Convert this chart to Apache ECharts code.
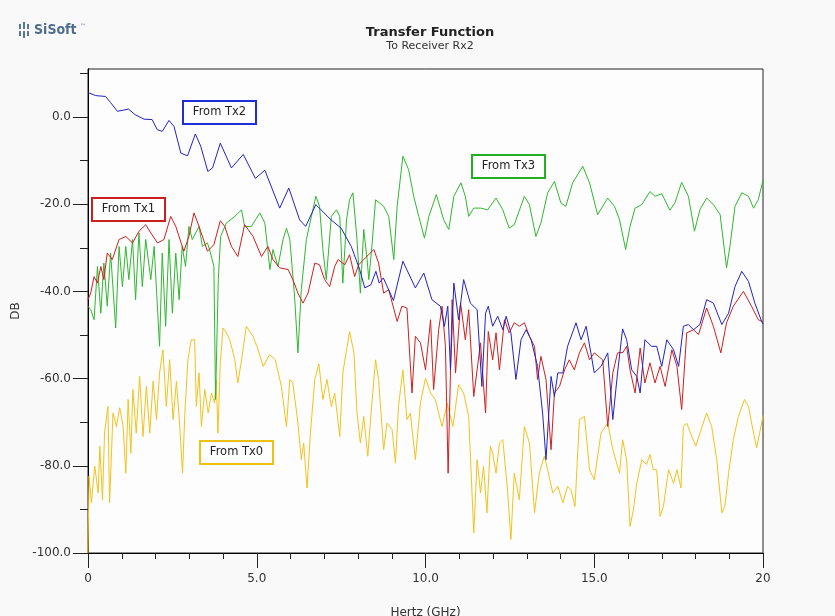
<!DOCTYPE html>
<html>
<head>
<meta charset="utf-8">
<script src="https://cdn.jsdelivr.net/npm/echarts@6/dist/echarts.min.js"></script>
<style>
  html, body { margin: 0; padding: 0; background: #f9f9f9; }
  #chart { width: 835px; height: 616px; }
</style>
</head>
<body>
<div id="chart"></div>
<script>
// values (GHz / dB)
var tx2Freq = [0, 0.23, 0.52, 0.67, 0.87, 1.2, 1.4, 1.66, 1.9, 2.05, 2.2, 2.4, 2.55, 2.75, 2.95, 3.18, 3.34, 3.55, 3.69, 3.92,
  4.25, 4.6, 4.96, 5.24, 5.68, 5.95, 6.27, 6.45, 6.75, 7.2, 7.5, 7.8, 8.05, 8.2, 8.38, 8.53, 8.63, 8.75, 9.05, 9.33,
  9.7, 9.95, 10.19, 10.44, 10.56, 10.66, 10.74, 10.84, 10.98, 11.13, 11.33, 11.53, 11.67, 11.78, 11.86, 11.99, 12.14, 12.29, 12.39, 12.53,
  12.68, 12.83, 12.98, 13.13, 13.32, 13.47, 13.57, 13.72, 13.82, 13.92, 14.07, 14.21, 14.46, 14.61, 14.76, 14.9, 15.0, 15.2, 15.4, 15.55,
  15.69, 15.84, 15.96, 16.11, 16.26, 16.36, 16.5, 16.7, 16.85, 17.0, 17.15, 17.35, 17.5, 17.64, 17.79, 17.94, 18.13, 18.33, 18.53, 18.78,
  18.98, 19.17, 19.37, 19.57, 19.76, 19.96, 20];
var tx2Db = [5.6, 4.9, 4.7, 3.3, 1.3, 1.8, 0.5, -0.5, -0.6, -2.9, -3.3, -0.8, -2.2, -8.3, -8.9, -3.9, -6.7, -12.5, -11.7, -6.0,
  -11.7, -8.6, -14.1, -12.2, -20.9, -16.3, -23.6, -25.1, -20.1, -23.6, -25.5, -29.7, -35.0, -39.2, -38.5, -35.4, -38.1, -36.9, -42.1, -33.1,
  -39.2, -35.8, -41.9, -43.4, -48, -43.4, -58, -38.1, -46.5, -37.3, -42.7, -44.2, -61.8, -45, -43.4, -48, -45.7, -48.8, -45.7, -49.5,
  -60.2, -51.1, -48.8, -51.1, -57.2, -67.9, -78.6, -59.5, -64.1, -58.7, -58.7, -52.6, -47.2, -51.1, -48, -54.1, -58.7, -57.2, -54.1, -69.4,
  -58.7, -48.6, -51.1, -58, -59.5, -63.3, -51.1, -52.6, -52.6, -57.2, -51.1, -53.4, -57.2, -48, -47.6, -48.8, -47.6, -41.9, -42.7, -47.6,
  -45, -38.9, -35.4, -37.7, -42.7, -46.9, -47.5];

var tx1Freq = [0, 0.08, 0.18, 0.28, 0.38, 0.47, 0.57, 0.72, 0.92, 1.12, 1.32, 1.51, 1.71, 1.86, 2.06, 2.25, 2.45, 2.6, 2.84, 2.99,
  3.14, 3.29, 3.54, 3.73, 3.92, 4.05, 4.25, 4.44, 4.64, 4.89, 5.14, 5.33, 5.48, 5.68, 5.93, 6.07, 6.22, 6.37, 6.52, 6.72,
  6.86, 7.01, 7.16, 7.31, 7.41, 7.61, 7.75, 7.9, 8.02, 8.22, 8.47, 8.61, 8.76, 8.91, 9.16, 9.3, 9.45, 9.6, 9.7, 9.85,
  10.0, 10.15, 10.24, 10.39, 10.49, 10.59, 10.67, 10.79, 10.89, 11.04, 11.18, 11.28, 11.43, 11.63, 11.78, 11.86, 11.99, 12.09, 12.19, 12.34,
  12.48, 12.63, 12.78, 12.93, 13.08, 13.23, 13.32, 13.42, 13.57, 13.72, 13.82, 13.97, 14.12, 14.26, 14.41, 14.56, 14.71, 14.86, 15.0, 15.25,
  15.4, 15.55, 15.69, 15.85, 15.96, 16.06, 16.21, 16.36, 16.5, 16.65, 16.8, 16.95, 17.1, 17.3, 17.45, 17.59, 17.74, 17.94, 18.09, 18.33,
  18.53, 18.75, 18.92, 19.12, 19.42, 19.66, 19.86, 20];
var tx1Db = [-41.9, -40.4, -36.6, -38.1, -34.3, -37.3, -31.2, -32.7, -28.1, -27.4, -28.9, -26.2, -24.7, -26.6, -28.9, -28.1, -22.8, -25.1, -30.8, -27.4,
  -22.0, -25.1, -30.8, -29.3, -23.8, -25.1, -29.7, -32.0, -24.7, -27.4, -32.0, -29.7, -32.7, -34.6, -35.0, -37.3, -40.4, -42.7, -40.4, -33.5,
  -33.9, -37.3, -38.9, -34.3, -32.7, -33.9, -31.6, -36.6, -33.9, -32.3, -30.4, -33.5, -40.4, -39.6, -46.9, -43.4, -43.8, -63.3, -50.3, -51.8,
  -58, -46.5, -62.5, -48.8, -43.4, -52.6, -81.7, -41.9, -58.7, -42.7, -51.1, -44.2, -64.1, -51.8, -67.9, -49.2, -55.7, -49.5, -58, -46.5,
  -49.5, -47.2, -48, -47.2, -50.3, -52.6, -60.2, -54.9, -60.2, -76.3, -63.3, -61.8, -58, -55.7, -58, -54.1, -51.8, -55.7, -54.1, -55.7,
  -71, -58.7, -54.1, -54, -52.6, -58, -63.3, -53, -61, -56.4, -61, -57.2, -61.8, -53.4, -57.2, -67.1, -49.5, -48.8, -49.9, -43.8,
  -48, -54.1, -47.2, -43.4, -40, -43.4, -46.5, -47];

var tx3Freq = [0, 0.08, 0.18, 0.28, 0.38, 0.47, 0.57, 0.67, 0.82, 0.92, 1.02, 1.12, 1.21, 1.32, 1.41, 1.51, 1.61, 1.71, 1.86, 1.96,
  2.12, 2.2, 2.3, 2.4, 2.5, 2.6, 2.7, 2.79, 2.89, 2.99, 3.09, 3.29, 3.39, 3.54, 3.63, 3.73, 3.78, 3.86, 3.93, 4.1,
  4.35, 4.55, 4.64, 4.84, 5.09, 5.24, 5.39, 5.48, 5.63, 5.78, 5.88, 5.98, 6.12, 6.22, 6.32, 6.47, 6.62, 6.75, 6.86, 6.96,
  7.06, 7.21, 7.36, 7.46, 7.55, 7.66, 7.75, 7.85, 7.97, 8.07, 8.17, 8.27, 8.32, 8.42, 8.52, 8.76, 8.91, 9.06, 9.16, 9.33,
  9.5, 9.65, 9.8, 9.97, 10.1, 10.32, 10.54, 10.69, 10.84, 11.05, 11.18, 11.28, 11.43, 11.63, 11.84, 12.09, 12.29, 12.48, 12.63, 12.93,
  13.08, 13.27, 13.42, 13.62, 13.82, 14.01, 14.16, 14.36, 14.66, 14.86, 15.1, 15.4, 15.6, 15.75, 15.93, 16.06, 16.21, 16.41, 16.65, 16.8,
  17.0, 17.24, 17.39, 17.59, 17.79, 17.97, 18.13, 18.33, 18.53, 18.73, 18.92, 19.02, 19.17, 19.37, 19.57, 19.72, 19.86, 20];
var tx3Db = [-43.4, -44.2, -46.5, -34.3, -45, -33.5, -43.4, -31.2, -48.4, -29.7, -38.9, -29.7, -37.3, -28.1, -41.9, -26.6, -38.9, -28.1, -37.3, -29.7,
  -52.6, -31.2, -48, -28.1, -45, -31.2, -41.9, -29.7, -34.3, -25.1, -28.1, -25.1, -29.7, -28.9, -31.2, -34.3, -64.8, -37.3, -27.4, -24.3,
  -22.8, -21.3, -25.1, -25.1, -22.0, -24.3, -35.0, -30.4, -34.3, -28.1, -25.5, -28.1, -41.1, -54.1, -39.6, -28.1, -22.8, -18.2, -20.5, -30.4,
  -37.3, -22.8, -21.3, -22.8, -38.1, -23.6, -19.0, -17.4, -28.1, -40.4, -25.8, -32.7, -37.3, -28.9, -19.0, -20.5, -22.8, -32.7, -20.5, -9.0,
  -12.1, -18.2, -22.8, -27.8, -22.8, -17.8, -23.6, -25.8, -18.2, -15.1, -18.2, -22.8, -20.9, -20.9, -21.3, -18.6, -21.3, -25.5, -24.7, -18.2,
  -20.1, -27.4, -24.3, -17.4, -14.8, -19.7, -20.5, -15.1, -11.3, -15.1, -22.4, -18.6, -20.5, -23.6, -30.4, -25.1, -20.9, -20.1, -17.1, -18.2,
  -17.6, -21.4, -19.7, -15.0, -18.2, -26.2, -21.3, -18.6, -20.1, -22.4, -34.6, -29.7, -20.5, -17.4, -18.2, -20.9, -19.0, -14.5];

var tx0Freq = [0, 0.03, 0.1, 0.2, 0.3, 0.35, 0.43, 0.49, 0.59, 0.64, 0.74, 0.84, 0.94, 1.04, 1.12, 1.19, 1.27, 1.33, 1.43, 1.53,
  1.63, 1.73, 1.83, 1.93, 2.03, 2.12, 2.22, 2.32, 2.42, 2.52, 2.62, 2.72, 2.8, 2.87, 2.96, 3.06, 3.16, 3.21, 3.29, 3.36,
  3.46, 3.56, 3.66, 3.75, 3.8, 3.85, 3.92, 4.0, 4.1, 4.2, 4.35, 4.44, 4.55, 4.69, 4.89, 5.04, 5.19, 5.38, 5.55, 5.73,
  5.88, 5.98, 6.07, 6.22, 6.32, 6.39, 6.49, 6.59, 6.72, 6.84, 6.96, 7.08, 7.21, 7.31, 7.46, 7.55, 7.75, 7.88, 7.97, 8.07,
  8.17, 8.29, 8.42, 8.52, 8.61, 8.76, 8.86, 9.01, 9.11, 9.2, 9.33, 9.45, 9.55, 9.7, 9.85, 10.0, 10.15, 10.29, 10.49, 10.64,
  10.81, 10.98, 11.13, 11.28, 11.43, 11.53, 11.63, 11.72, 11.82, 11.92, 11.99, 12.09, 12.19, 12.29, 12.43, 12.53, 12.63, 12.78, 12.93, 13.08,
  13.23, 13.37, 13.52, 13.62, 13.77, 13.92, 14.07, 14.21, 14.31, 14.43, 14.56, 14.71, 14.86, 15.0, 15.2, 15.4, 15.55, 15.75, 15.84, 15.96,
  16.06, 16.16, 16.26, 16.41, 16.55, 16.65, 16.75, 16.85, 16.95, 17.05, 17.2, 17.35, 17.45, 17.57, 17.64, 17.74, 17.89, 18.01, 18.13, 18.33,
  18.48, 18.63, 18.78, 18.87, 18.98, 19.12, 19.27, 19.45, 19.57, 19.72, 19.81, 19.9, 20];
var tx0Db = [-100, -82.4, -88.5, -80.1, -86.2, -75.5, -87.8, -72.5, -66.4, -88.5, -67.9, -71, -66.7, -71, -81.7, -64.8, -77.1, -62.5, -72.5, -59.5,
  -73.3, -61.8, -72.5, -60.6, -69.4, -58.7, -53.4, -66.4, -55.7, -69.4, -60.6, -71, -81.7, -67.9, -55.7, -51.1, -51.1, -66.4, -58.7, -71,
  -62.5, -67.9, -63.3, -65.6, -60.2, -72.5, -56.4, -48.4, -49.5, -51.1, -55.7, -61, -55.7, -48, -50.3, -53.4, -57.2, -54.5, -55.7, -61.8,
  -71, -60.2, -61, -70.2, -78.6, -74.8, -85.1, -72.5, -60.2, -56.6, -64.8, -60.2, -66.4, -63.3, -73.3, -58.7, -49.2, -54.1, -67.9, -74.8,
  -68.7, -77.8, -64.8, -55.7, -60.2, -76.3, -70.2, -71.7, -79.4, -66.4, -58, -69.4, -67.9, -78.6, -65.6, -59.9, -63.3, -64.8, -71, -65.6,
  -71, -61.4, -63.3, -68.7, -95.4, -78.6, -86.2, -80.1, -90.8, -75.5, -77.1, -81.7, -74.8, -74, -85.5, -96.9, -81.7, -87.8, -71, -74.8,
  -90.8, -81.7, -77.8, -80.9, -86.2, -84.7, -88.5, -84.7, -85.5, -89.3, -69.4, -68.7, -80.9, -83.2, -72.5, -70.2, -76.3, -81.7, -74, -78.6,
  -93.9, -90.1, -84, -78.6, -79.7, -77.4, -80.9, -80.9, -91.6, -89.3, -80.9, -84, -80.9, -85.1, -71, -70.2, -73.3, -75.5, -72.5, -67.9,
  -71, -78.6, -90.8, -89.3, -81.7, -74, -68.7, -64.8, -66.4, -72.5, -75.9, -72.5, -68.5];

var majorX = [0, 5, 10, 15, 20];
var minorX = [1, 2, 3, 4, 6, 7, 8, 9, 11, 12, 13, 14, 16, 17, 18, 19];
var majorY = [-100, -80, -60, -40, -20, 0];
var minorY = [-90, -70, -50, -30, -10, 10];

function pairs(xs, ys) {
    return xs.map(function (x, i) { return [x, ys[i]]; });
}

var chart = echarts.init(document.getElementById('chart'), null, { renderer: 'canvas' });
var font = 'DejaVu Sans';

function lineSeries(name, xs, ys, color) {
    return {
        name: name,
        type: 'line',
        xAxisIndex: 0,
        yAxisIndex: 0,
        data: pairs(xs, ys),
        showSymbol: false,
        symbol: 'none',
        lineStyle: { color: color, width: 1 },
        emphasis: { disabled: true },
        z: 2
    };
}

function tag(text, x, y, w, h, color) {
    return {
        type: 'group',
        left: x,
        top: y,
        children: [{
            type: 'rect',
            shape: { x: 0, y: 0, width: w, height: h },
            style: { fill: '#ffffff', stroke: color, lineWidth: 2 }
        }, {
            type: 'text',
            x: w / 2,
            y: h / 2,
            style: {
                text: text, fill: '#222', font: '11.5px "' + font + '"',
                align: 'center', verticalAlign: 'middle'
            }
        }],
        z: 10
    };
}

var option = {
    animation: false,
    backgroundColor: '#f9f9f9',
    title: {
        text: 'Transfer Function',
        subtext: 'To Receiver Rx2',
        left: 425,
        textAlign: 'center',
        top: 21,
        itemGap: 2,
        textStyle: { fontFamily: font, fontSize: 13, fontWeight: 'bold', color: '#222' },
        subtextStyle: { fontFamily: font, fontSize: 11, color: '#333' }
    },
    grid: {
        left: 88, right: 72, top: 69, bottom: 63,
        outerBoundsMode: 'none',
        containLabel: false,
        show: true, borderColor: '#222', borderWidth: 1, backgroundColor: '#fdfdfd'
    },
    xAxis: [{
        type: 'value', min: 0, max: 20, position: 'bottom',
        axisLine: { onZero: false, lineStyle: { color: '#000' } },
        axisTick: { customValues: minorX, length: 6, lineStyle: { color: '#222' } },
        axisLabel: { show: false },
        splitLine: { show: false }
    }, {
        type: 'value', min: 0, max: 20, position: 'bottom',
        name: 'Hertz (GHz)', nameLocation: 'middle', nameGap: 54,
        nameTextStyle: { fontFamily: font, fontSize: 12, color: '#333' },
        axisLine: { onZero: false, lineStyle: { color: '#000' } },
        axisTick: { customValues: majorX, length: 15, lineStyle: { color: '#222' } },
        axisLabel: {
            customValues: majorX, margin: 20, fontFamily: font, fontSize: 12, color: '#333',
            formatter: function (v) { return (v === 0 || v === 20) ? String(v) : v.toFixed(1); }
        },
        splitLine: { show: false }
    }],
    yAxis: [{
        type: 'value', min: -100, max: 11, position: 'left',
        axisLine: { show: true, onZero: false, lineStyle: { color: '#000' } },
        axisTick: { show: true, customValues: minorY, length: 8, lineStyle: { color: '#222' } },
        axisLabel: { show: false },
        splitLine: { show: false }
    }, {
        type: 'value', min: -100, max: 11, position: 'left',
        name: 'DB', nameLocation: 'middle', nameGap: 63,
        nameTextStyle: { fontFamily: font, fontSize: 12, color: '#333' },
        axisLine: { show: true, onZero: false, lineStyle: { color: '#000' } },
        axisTick: { show: true, customValues: majorY, length: 15, lineStyle: { color: '#222' } },
        axisLabel: {
            customValues: majorY, margin: 17, fontFamily: font, fontSize: 12, color: '#333',
            formatter: function (v) { return v.toFixed(1); }
        },
        splitLine: { show: false }
    }],
    series: [
        lineSeries('From Tx0', tx0Freq, tx0Db, '#f3c21c'),
        lineSeries('From Tx3', tx3Freq, tx3Db, '#2fb82f'),
        lineSeries('From Tx1', tx1Freq, tx1Db, '#d01f1f'),
        lineSeries('From Tx2', tx2Freq, tx2Db, '#2323c4')
    ],
    graphic: [
        tag('From Tx2', 182, 100, 73, 23, '#1f2fd8'),
        tag('From Tx1', 91, 197, 73, 23, '#cc2020'),
        tag('From Tx3', 471, 154, 73, 23, '#22b022'),
        tag('From Tx0', 199, 440, 73, 23, '#f0c010'),
        {
            type: 'group', left: 18, top: 22,
            children: [
                { type: 'rect', shape: { x: 0, y: 2, width: 2, height: 12 }, style: { fill: '#5b7796' } },
                { type: 'rect', shape: { x: 4, y: 0, width: 2, height: 16 }, style: { fill: '#5b7796' } },
                { type: 'rect', shape: { x: 8, y: 2, width: 2, height: 12 }, style: { fill: '#5b7796' } },
                { type: 'rect', shape: { x: -1, y: 7, width: 12, height: 2 }, style: { fill: '#f9f9f9' } },
                {
                    type: 'text', x: 15, y: 8,
                    style: { text: 'SiSoft', fill: '#4f6d8e', font: 'bold 14px "' + font + ' Condensed"', verticalAlign: 'middle' }
                },
                {
                    type: 'text', x: 61, y: 1,
                    style: { text: '™', fill: '#4f6d8e', font: '6px "' + font + '"' }
                }
            ]
        }
    ]
};

chart.setOption(option);
</script>
</body>
</html>
